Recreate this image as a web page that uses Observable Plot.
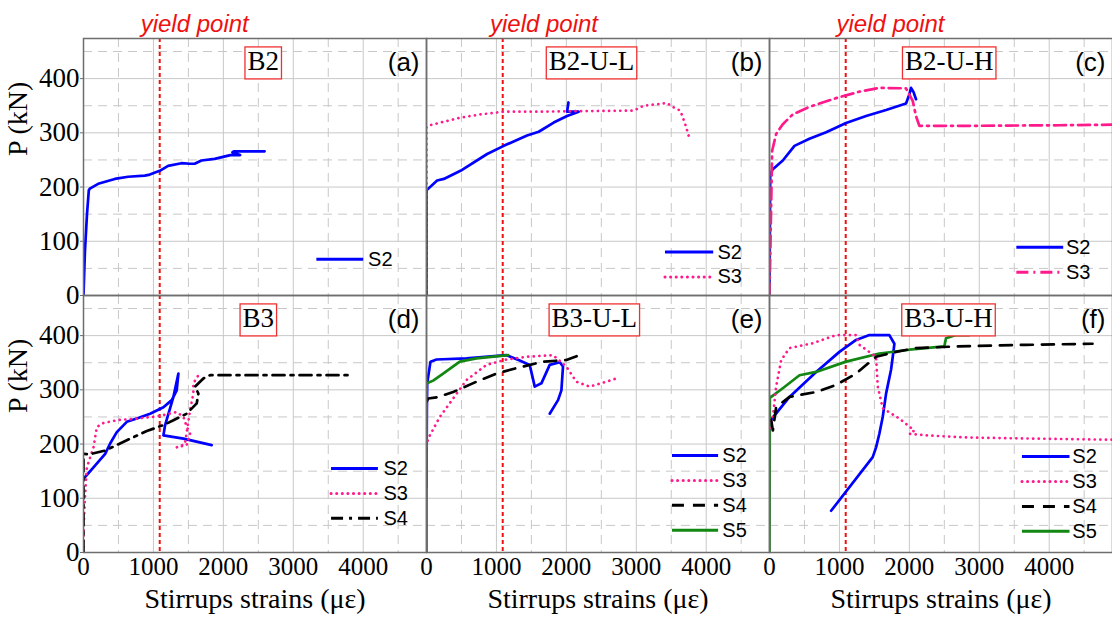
<!DOCTYPE html>
<html><head><meta charset="utf-8">
<script src="https://cdn.jsdelivr.net/npm/d3@7"></script>
<script src="https://cdn.jsdelivr.net/npm/@observablehq/plot@0.6"></script>
<style>body{margin:0;background:#fff;}</style>
</head><body><div id="chart"></div>
<script>
// ---------- data ----------
const panels = ["a", "b", "c", "d", "e", "f"];
const panelTitles = ["B2", "B2-U-L", "B2-U-H", "B3", "B3-U-L", "B3-U-H"];
const panelCols = [0, 1, 2, 0, 1, 2];
const panelRows = [0, 0, 0, 1, 1, 1];
const xTicks = [0, 1000, 2000, 3000, 4000];
const yTicks = [0, 100, 200, 300, 400];
const yieldStrain = 1090;
const xLabel = "Stirrups strains (με)";
const yLabel = "P (kN)";
const yieldLabel = "yield point";

// curves: [strain (με), load (kN)]
const B2_S2 = [[0,0],[20,80],[50,150],[76,194],[90,197],[210,206],[447,215],[638,219],[876,221],[948,223],[1090,230],[1210,239],[1400,244],[1520,243],[1590,243],[1686,249],[1876,252],[2100,259],[2240,259],[2130,264],[2150,266],[2590,266]];

const B2UL_S2 = [[0,0],[0,194],[152,212],[248,215],[486,230],[867,261],[1105,276],[1438,295],[1605,302],[1819,319],[2010,331],[2176,339],[2010,339],[2030,356]];
const B2UL_S3 = [[0,0],[0,310],[20,313],[200,319],[486,328],[771,334],[1105,339],[1580,339],[2200,340],[2962,341],[3105,350],[3438,355],[3533,347],[3629,341],[3700,316],[3748,295]];

const B2UH_S2 = [[0,0],[10,224],[48,233],[190,249],[357,276],[571,289],[810,301],[1095,318],[1381,331],[1667,342],[1952,354],[2000,371],[2024,383],[2060,375],[2095,362]];
const B2UH_S3 = [[0,0],[38,267],[95,298],[190,316],[333,334],[571,348],[952,364],[1286,376],[1571,383],[1952,382],[2048,359],[2095,331],[2143,313],[2952,313],[4143,314],[4900,315]];

const B3_S2 = [[0,136],[143,157],[310,182],[381,201],[476,222],[619,241],[762,247],[952,256],[1143,268],[1262,281],[1333,299],[1357,330],[1286,287],[1167,235],[1143,216],[1429,210],[1833,198]];
const B3_S3 = [[0,0],[0,40],[20,100],[48,157],[143,194],[190,231],[262,238],[476,244],[762,247],[1048,251],[1333,259],[1430,250],[1476,232],[1524,219],[1476,198],[1333,194],[1450,200],[1524,262],[1571,293],[1571,312],[1643,327],[1690,330]];
const B3_S4 = [[0,0],[0,182],[80,181],[310,188],[619,207],[905,224],[1143,235],[1286,244],[1476,256],[1619,275],[1643,293],[1595,306],[1714,321],[1810,327],[3781,327]];

const B3UL_S2 = [[0,120],[5,260],[10,312],[57,352],[143,356],[571,358],[1143,364],[1333,354],[1476,346],[1548,306],[1643,312],[1762,346],[1905,351],[1952,343],[1929,299],[1881,281],[1762,256]];
const B3UL_S3 = [[0,196],[24,210],[190,250],[381,284],[571,318],[857,346],[1143,356],[1429,361],[1810,364],[2000,343],[2143,315],[2333,306],[2571,315],[2714,321]];
const B3UL_S4 = [[0,278],[24,284],[143,286],[381,296],[714,315],[1000,330],[1286,340],[1667,352],[2000,355],[2190,364],[2238,358]];
const B3UL_S5 = [[0,0],[0,312],[24,313],[95,317],[238,330],[476,352],[714,358],[1167,364]];

const B3UH_S2 = [[24,245],[286,287],[667,333],[1000,370],[1238,392],[1429,401],[1714,401],[1786,385],[1775,373],[1738,337],[1667,293],[1619,250],[1571,219],[1524,194],[1476,176],[881,77]];
const B3UH_S3 = [[10,230],[48,250],[95,306],[167,355],[286,377],[619,386],[952,401],[1238,401],[1286,383],[1524,361],[1548,306],[1619,266],[1857,247],[2071,225],[2000,219],[2238,216],[2857,212],[3800,210],[4900,208]];
const B3UH_S4 = [[24,244],[48,225],[95,268],[286,287],[667,296],[952,309],[1238,330],[1524,361],[1810,370],[2095,377],[2667,380],[3667,383],[4619,385]];
const B3UH_S5 = [[0,0],[5,287],[24,287],[190,303],[429,327],[667,333],[1095,352],[1571,367],[2000,374],[2500,380],[2524,395],[2667,401],[2857,401]];

const curves = [
  {panel: "a", series: "S2", style: "blue", data: B2_S2},
  {panel: "b", series: "S2", style: "blue", data: B2UL_S2},
  {panel: "b", series: "S3", style: "pinkDot", data: B2UL_S3},
  {panel: "c", series: "S2", style: "blue", data: B2UH_S2},
  {panel: "c", series: "S3", style: "pinkDashDot", data: B2UH_S3},
  {panel: "d", series: "S2", style: "blue", data: B3_S2},
  {panel: "d", series: "S3", style: "pinkDot", data: B3_S3},
  {panel: "d", series: "S4", style: "blackDashDot", data: B3_S4},
  {panel: "e", series: "S2", style: "blue", data: B3UL_S2},
  {panel: "e", series: "S3", style: "pinkDot", data: B3UL_S3},
  {panel: "e", series: "S4", style: "blackDash", data: B3UL_S4},
  {panel: "e", series: "S5", style: "green", data: B3UL_S5},
  {panel: "f", series: "S2", style: "blue", data: B3UH_S2},
  {panel: "f", series: "S3", style: "pinkDot", data: B3UH_S3},
  {panel: "f", series: "S4", style: "blackDash", data: B3UH_S4},
  {panel: "f", series: "S5", style: "green", data: B3UH_S5}
];

// ---------- styles / layout ----------
const styles = {
  blue:         {stroke: "#0000ff"},
  green:        {stroke: "#128712"},
  pinkDot:      {stroke: "#ff1a8c", strokeDasharray: "0.1 5.5", strokeLinecap: "round"},
  pinkDashDot:  {stroke: "#ff1a8c", strokeDasharray: "12 5 2 5"},
  blackDashDot: {stroke: "#000000", strokeDasharray: "12 6 3 6"},
  blackDash:    {stroke: "#000000", strokeDasharray: "12 9"}
};
const titlePos = {a: 2570, b: 2360, c: 2570, d: 2500, e: 2400, f: 2560};
const titleLoad = 432;
const yieldLabelPos = {a: 1590, b: 1680, c: 1730};
const legendPos = {
  a: {x1: 3330, x2: 4000, tx: 4070, y0: 67},
  b: {x1: 3410, x2: 4100, tx: 4160, y0: 80},
  c: {x1: 3530, x2: 4200, tx: 4240, y0: 89},
  d: {x1: 3540, x2: 4210, tx: 4290, y0: 155},
  e: {x1: 3510, x2: 4170, tx: 4230, y0: 179},
  f: {x1: 3610, x2: 4290, tx: 4330, y0: 177}
};
const legendStep = 46;
const SERIF = "Liberation Serif, Times New Roman, serif";
const SANS = "Liberation Sans, Arial, sans-serif";

// ---------- build tables ----------
const idx = p => panels.indexOf(p);
const points = [];
curves.forEach(c => c.data.forEach(([x, y]) => points.push({
  panel: c.panel, col: panelCols[idx(c.panel)], row: panelRows[idx(c.panel)],
  series: c.series, style: c.style, x, y
})));
const panelInfo = panels.map((p, i) => ({panel: p, col: panelCols[i], row: panelRows[i], title: panelTitles[i], letter: `(${p})`, tx: titlePos[p], yx: yieldLabelPos[p]}));
const legendRows = [];
panels.forEach(p => {
  const list = curves.filter(c => c.panel === p);
  const L = legendPos[p];
  list.forEach((c, k) => legendRows.push({
    col: panelCols[idx(p)], row: panelRows[idx(p)], series: c.series, style: c.style,
    x1: L.x1, x2: L.x2, tx: L.tx, y: L.y0 - k * legendStep
  }));
});

const lineMarks = Object.entries(styles).map(([name, s]) =>
  Plot.line(points.filter(d => d.style === name), {
    x: "x", y: "y", z: "series", fx: "col", fy: "row", strokeWidth: 2.7,
    strokeLinejoin: "round", clip: true, ...s
  })
);
const legendLinks = Object.entries(styles).map(([name, s]) =>
  Plot.link(legendRows.filter(d => d.style === name), {
    x1: "x1", x2: "x2", y1: "y", y2: "y", fx: "col", fy: "row", strokeWidth: 3, ...s
  })
);

const chart = Plot.plot({
  width: 1112, height: 617,
  marginLeft: 82, marginRight: 0, marginTop: 37, marginBottom: 65,
  style: {fontFamily: SERIF, fontSize: "25px", background: "white", color: "black"},
  x: {domain: [0, 4905], label: null},
  y: {domain: [0, 474], label: null},
  fx: {domain: [0, 1, 2], padding: 0, axis: null},
  fy: {domain: [0, 1], padding: 0, axis: null},
  marks: [
    Plot.ruleX([1000, 2000, 3000, 4000], {stroke: "#c8c8c8", strokeWidth: 1}),
    Plot.ruleX([500, 1500, 2500, 3500, 4500], {stroke: "#c8c8c8", strokeWidth: 1, strokeDasharray: "9 6"}),
    Plot.ruleY([100, 200, 300, 400], {stroke: "#c8c8c8", strokeWidth: 1}),
    Plot.ruleY([50, 150, 250, 350, 450], {stroke: "#c8c8c8", strokeWidth: 1, strokeDasharray: "9 6"}),
    Plot.ruleX([yieldStrain], {stroke: "#ee1111", strokeWidth: 2, strokeDasharray: "4 3"}),
    ...lineMarks,
    Plot.frame({stroke: "#6e6e6e", strokeWidth: 1.5}),
    Plot.axisX(xTicks, {tickSize: 0, tickPadding: 5, label: null, fontSize: 25, tickFormat: "d", fontFamily: SERIF}),
    Plot.axisY(yTicks, {tickSize: 3, tickPadding: 1, label: null, fontSize: 27, tickFormat: "d", fontFamily: SERIF, stroke: "#6e6e6e"}),
    Plot.text(panelInfo, {x: "tx", y: () => titleLoad, fx: "col", fy: "row", text: "title", fontFamily: SERIF, fontSize: 27, fill: "black"}),
    Plot.text(panelInfo, {fx: "col", fy: "row", text: "letter", frameAnchor: "top-right", dx: -7, dy: 24, lineAnchor: "middle", textAnchor: "end", fontFamily: SANS, fontSize: 26, fill: "black"}),
    Plot.text(panelInfo.filter(d => d.row === 0), {x: "yx", fx: "col", fy: "row", text: () => yieldLabel, frameAnchor: "top", dy: -14, lineAnchor: "middle", fontFamily: SANS, fontStyle: "italic", fontSize: 24, fill: "#ee1111"}),
    Plot.text(panelInfo.filter(d => d.col === 0), {fx: "col", fy: "row", text: () => yLabel, frameAnchor: "left", rotate: -90, dx: -65, dy: -11, lineAnchor: "middle", fontFamily: SERIF, fontSize: 28, fill: "black"}),
    Plot.text(panelInfo.filter(d => d.row === 1), {fx: "col", fy: "row", text: () => xLabel, frameAnchor: "bottom", dy: 47, lineAnchor: "middle", fontFamily: SERIF, fontSize: 28, fill: "black"}),
    ...legendLinks,
    Plot.text(legendRows, {x: "tx", y: "y", fx: "col", fy: "row", text: "series", textAnchor: "start", lineAnchor: "middle", fontFamily: SANS, fontSize: 20, fill: "black"})
  ]
});
document.getElementById("chart").appendChild(chart);

// boxes around panel titles
d3.select(chart).selectAll("text").each(function () {
  if (!panelTitles.includes(this.textContent)) return;
  const b = this.getBBox();
  const r = document.createElementNS("http://www.w3.org/2000/svg", "rect");
  r.setAttribute("x", b.x - 2.5);
  r.setAttribute("y", b.y + 1);
  r.setAttribute("width", b.width + 5);
  r.setAttribute("height", b.height + 2);
  r.setAttribute("fill", "white");
  r.setAttribute("stroke", "#f03030");
  r.setAttribute("stroke-width", "1.3");
  if (this.getAttribute("transform")) r.setAttribute("transform", this.getAttribute("transform"));
  this.parentNode.insertBefore(r, this);
});
</script></body></html>
